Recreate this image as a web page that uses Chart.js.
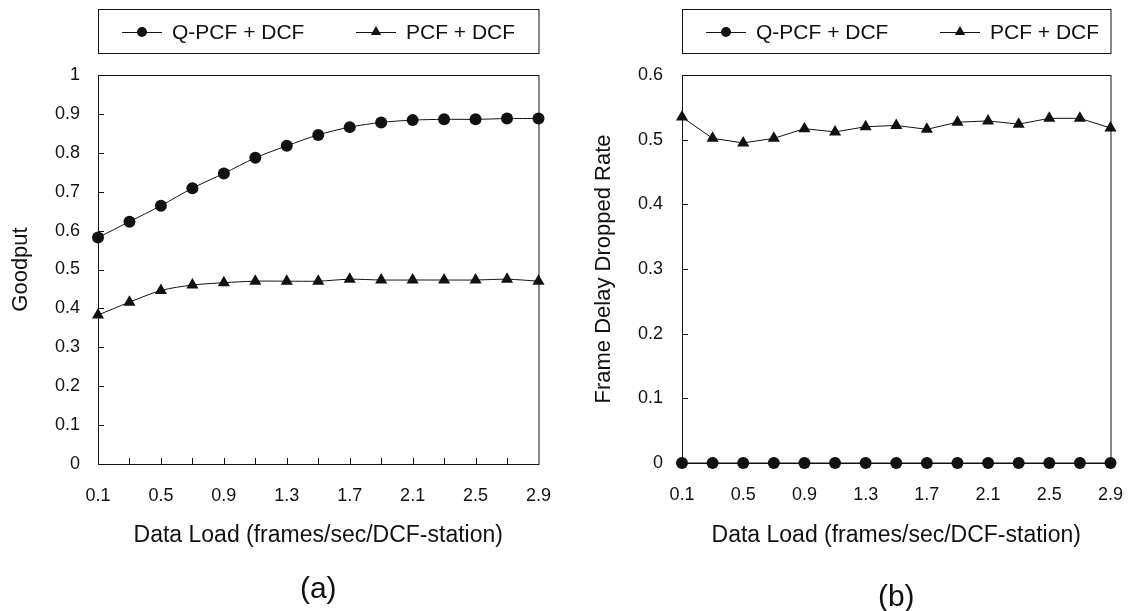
<!DOCTYPE html>
<html>
<head>
<meta charset="utf-8">
<script src="https://cdn.jsdelivr.net/npm/chart.js@4/dist/chart.umd.min.js"></script>
<style>
  html, body { margin: 0; padding: 0; background: #fff; overflow: hidden; }
  #wrap { position: relative; width: 1144px; height: 611px; }
  .panel { position: absolute; top: 0; width: 572px; height: 611px; }
</style>
</head>
<body>
<div id="wrap">
  <div class="panel" style="left:0"><canvas id="goodput_canvas"></canvas></div>
  <div class="panel" style="left:572px"><canvas id="dropped_canvas"></canvas></div>
</div>
<script>
// x categories (frames/sec/DCF-station)
var dataLoad = ['0.1', '0.3', '0.5', '0.7', '0.9', '1.1', '1.3', '1.5', '1.7', '1.9', '2.1', '2.3', '2.5', '2.7', '2.9'];

// (a) goodput
var goodputQPCF = [0.582, 0.623, 0.664, 0.709, 0.747, 0.787, 0.818, 0.846, 0.866, 0.878, 0.884, 0.886, 0.886, 0.888, 0.888];
var goodputPCF = [0.383, 0.416, 0.446, 0.460, 0.466, 0.470, 0.470, 0.470, 0.475, 0.473, 0.473, 0.473, 0.473, 0.475, 0.470];

// (b) frame delay dropped rate
var droppedQPCF = [0, 0, 0, 0, 0, 0, 0, 0, 0, 0, 0, 0, 0, 0, 0];
var droppedPCF = [0.535, 0.502, 0.495, 0.502, 0.517, 0.512, 0.520, 0.522, 0.516, 0.527, 0.529, 0.524, 0.533, 0.533, 0.518];

var seriesNames = ['Q-PCF + DCF', 'PCF + DCF'];

var ink = '#111';
var fontFamily = '"Liberation Sans", Arial, sans-serif';

function markerRadius(style) {
    return style === 'circle' ? 6 : 7;
}

function makeDataset(label, data, style, tension) {
    return {
        label: label,
        data: data,
        borderColor: ink,
        backgroundColor: ink,
        borderWidth: 1,
        pointStyle: style,
        pointRadius: markerRadius(style),
        pointBorderWidth: 0,
        pointBackgroundColor: ink,
        tension: tension,
        clip: false
    };
}

// frame around plot + small inward tick marks
var framePlugin = {
    id: 'frame',
    beforeDatasetsDraw: function(chart) {
        var ctx = chart.ctx;
        var a = chart.chartArea;
        var x = chart.scales.x, y = chart.scales.y;
        ctx.save();
        ctx.strokeStyle = ink;
        ctx.lineWidth = 1;
        ctx.strokeRect(a.left + 0.5, a.top + 0.5, a.right - a.left, a.bottom - a.top);
        ctx.beginPath();
        for (var i = 1; i < x.ticks.length - 1; i++) {
            var px = Math.round(x.getPixelForTick(i)) + 0.5;
            ctx.moveTo(px, a.bottom);
            ctx.lineTo(px, a.bottom - 6);
        }
        for (var j = 1; j < y.ticks.length - 1; j++) {
            var py = Math.round(y.getPixelForValue(y.ticks[j].value)) + 0.5;
            ctx.moveTo(a.left, py);
            ctx.lineTo(a.left + 6, py);
        }
        ctx.stroke();
        ctx.restore();
    }
};

// boxed legend above the plot, panel name below it
var boxLegendPlugin = {
    id: 'boxLegend',
    afterDraw: function(chart, args, opts) {
        var ctx = chart.ctx;
        var a = chart.chartArea;
        var top = 9, bottom = 53, mid = 32;
        ctx.save();
        ctx.strokeStyle = ink;
        ctx.lineWidth = 1;
        ctx.strokeRect(a.left + 0.5, top + 0.5, a.right - a.left, bottom - top);
        var offsets = [24, 258];
        chart.data.datasets.forEach(function(ds, k) {
            var x0 = a.left + offsets[k];
            ctx.beginPath();
            ctx.moveTo(x0, mid + 0.5);
            ctx.lineTo(x0 + 40, mid + 0.5);
            ctx.strokeStyle = ink;
            ctx.lineWidth = 1;
            ctx.stroke();
            ctx.fillStyle = ink;
            Chart.helpers.drawPoint(ctx, {
                pointStyle: ds.pointStyle,
                radius: markerRadius(ds.pointStyle) - 1,
                rotation: 0,
                borderWidth: 0
            }, x0 + 20, mid);
            ctx.fillStyle = ink;
            ctx.font = '21px ' + fontFamily;
            ctx.textBaseline = 'middle';
            ctx.textAlign = 'left';
            ctx.fillText(ds.label, x0 + 50, mid + 1);
        });

        ctx.font = '30px ' + fontFamily;
        ctx.textAlign = 'center';
        ctx.textBaseline = 'middle';
        ctx.fillText(opts.name, (a.left + a.right) / 2, opts.nameY);
        ctx.restore();
    }
};

function makeConfig(qData, pData, yMax, yTitle, panelName, tension, dims) {
    return {
        type: 'line',
        data: {
            labels: dataLoad,
            datasets: [
                makeDataset(seriesNames[0], qData, 'circle', tension),
                makeDataset(seriesNames[1], pData, 'triangle', tension)
            ]
        },
        options: {
            responsive: false,
            animation: false,
            devicePixelRatio: 1,
            layout: { padding: { left: 0, right: dims.right, top: 75, bottom: 0 } },
            plugins: {
                legend: { display: false },
                tooltip: { enabled: false },
                boxLegend: { name: panelName, nameY: dims.nameY }
            },
            scales: {
                x: {
                    type: 'category',
                    offset: false,
                    grid: { display: false, drawTicks: false },
                    border: { display: false },
                    afterFit: function(scale) { scale.height = dims.xHeight; },
                    ticks: {
                        autoSkip: false,
                        maxRotation: 0,
                        padding: 21,
                        color: ink,
                        font: { family: fontFamily, size: 18 },
                        callback: function(val, idx) { return idx % 2 === 0 ? this.getLabelForValue(val) : ''; }
                    },
                    title: {
                        display: true,
                        text: 'Data Load (frames/sec/DCF-station)',
                        color: ink,
                        font: { family: fontFamily, size: 23 },
                        padding: { top: 0, bottom: 62 }
                    }
                },
                y: {
                    min: 0,
                    max: yMax,
                    grid: { display: false, drawTicks: false },
                    border: { display: false },
                    afterFit: function(scale) { scale.width = dims.yWidth; },
                    ticks: {
                        stepSize: 0.1,
                        padding: dims.yTickPad,
                        color: ink,
                        font: { family: fontFamily, size: 18 },
                        callback: function(val) { return String(Number(val.toFixed(1))); }
                    },
                    title: {
                        display: true,
                        text: yTitle,
                        color: ink,
                        font: { family: fontFamily, size: 22 },
                        padding: { top: dims.yTitlePad, bottom: 0 }
                    }
                }
            }
        },
        plugins: [framePlugin, boxLegendPlugin]
    };
}

var goodputConfig = makeConfig(goodputQPCF, goodputPCF, 1, 'Goodput', '(a)', 0.3,
    { right: 32, xHeight: 147, nameY: 590, yWidth: 98, yTickPad: 18, yTitlePad: 8 });
var droppedConfig = makeConfig(droppedQPCF, droppedPCF, 0.6, 'Frame Delay Dropped Rate', '(b)', 0,
    { right: 22, xHeight: 148, nameY: 598, yWidth: 110, yTickPad: 19, yTitlePad: 19 });

function setupCanvas(id) {
    var c = document.getElementById(id);
    c.width = 572;
    c.height = 611;
    c.style.width = '572px';
    c.style.height = '611px';
    return c.getContext('2d');
}

window.goodputLine = new Chart(setupCanvas('goodput_canvas'), goodputConfig);
window.droppedLine = new Chart(setupCanvas('dropped_canvas'), droppedConfig);
</script>
</body>
</html>
